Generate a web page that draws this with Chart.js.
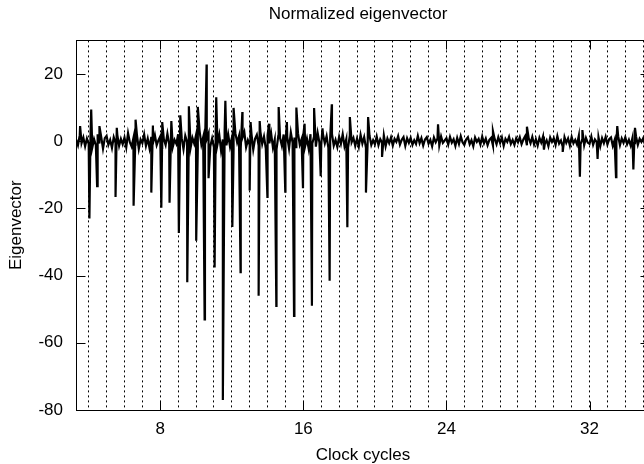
<!DOCTYPE html>
<html><head><meta charset="utf-8">
<script src="https://cdn.jsdelivr.net/npm/chart.js@4"></script>
<style>
html,body{margin:0;padding:0;overflow:hidden;background:#fff;width:644px;height:464px}
#wrap{position:absolute;left:0;top:0;width:716px;height:464px}
</style></head>
<body><div id="wrap"><canvas id="c" width="716" height="464"></canvas></div>
<script>
const baseStart = 3.3;
const baseStep = 0.1;
const baseline = [
 0.5,-1.2,1.8,-0.6,1.1,-1.5,0.8,
 -0.8,1.5,-1.9,0.6,-1.2,2.1,-0.7,1.3,-2.2,0.9,
 1.6,-1.1,0.4,-2.0,1.2,-0.5,1.9,-1.4,0.7,-0.9,
 1.1,-1.8,2.4,-0.3,-1.6,0.9,-1.0,1.7,-2.3,0.5,
 -0.6,2.0,-1.4,0.8,-2.1,1.3,-0.4,1.8,-1.2,0.3,
 1.4,-2.0,0.6,-1.1,2.2,-0.9,1.5,-1.7,0.4,-0.8,
 2.1,-1.3,0.9,-2.4,1.6,-0.2,2.5,-1.9,1.0,-0.7,
 1.8,-2.2,3.0,-1.0,1.2,-2.6,0.7,2.3,-1.5,0.8,
 -1.8,2.6,-0.9,1.9,-2.8,0.5,3.1,-1.2,2.0,-1.6,
 0.9,-2.3,2.4,-0.4,1.5,-2.0,1.1,2.7,-1.8,0.3,
 -1.1,2.2,-2.5,0.7,1.9,-1.3,2.8,-0.8,1.4,-2.1,
 1.7,-0.6,2.3,-1.9,0.5,-2.4,1.6,0.9,-1.4,2.0,
 -0.9,1.3,-2.2,2.6,-0.5,1.1,-1.8,2.4,-1.0,0.6,
 1.9,-1.5,0.8,-2.3,2.1,-0.7,1.4,-1.6,2.5,-0.4,
 -1.2,2.0,-0.6,1.5,-2.0,0.9,2.2,-1.3,0.4,-1.7,
 1.3,-0.8,2.1,-1.5,0.6,-1.9,1.7,-0.3,1.0,-1.4,
 0.8,-1.6,1.9,-0.7,1.2,-2.0,0.5,1.6,-1.1,0.3,
 -0.9,1.4,-1.2,0.6,-0.4,1.7,-1.5,0.8,-0.6,1.1,
 -1.3,0.7,-0.2,1.5,-1.0,0.4,1.2,-1.4,0.9,-0.5,
 1.0,-1.1,0.3,-0.8,1.6,-0.6,0.9,-1.3,0.5,1.2,
 -0.7,0.4,-1.5,1.1,-0.3,0.8,-1.2,1.4,-0.5,0.2,
 0.9,-1.0,1.3,-0.4,0.6,-1.4,1.0,-0.8,1.5,-0.3,
 -1.1,0.5,1.2,-0.9,0.3,-1.5,1.1,-0.2,0.7,-1.0,
 1.4,-0.6,0.8,-1.2,0.4,1.0,-1.3,0.6,-0.9,1.2,
 -0.5,1.1,-1.4,0.7,-0.2,1.3,-0.8,0.4,-1.1,0.9,
 -0.3,1.2,-0.9,0.5,1.5,-1.2,0.8,-0.6,1.3,-1.0,
 0.6,-1.3,1.0,-0.4,1.4,-0.8,0.3,-1.5,1.1,-0.2,
 0.9,-1.1,1.5,-0.7,0.2,-1.6,1.2,-0.5,0.8,-1.3,
 1.3,-0.6,0.4,-1.0,1.6,-0.9,0.7,-1.2,1.0,-0.4,
 -0.8,1.4,-1.1,0.5,-0.3,1.2,-1.5,0.9,-0.6,1.3,
 -1.0,0.6,1.1,-1.4,0.3,-0.7,1.5,-1.2,0.8,-0.5,
 1.2,-0.9,0.4,-1.3,1.0,-0.6,1.4,-1.1,0.7,-0.2,
 0.9,-1.0,0.5,-0.7,1.1
];
// Spikes (clock cycle, eigenvector value)
const spikeX = [
 3.52,4.04,4.14,4.47,4.60,5.50,5.57,6.51,6.62,7.50,7.59,8.06,8.11,8.52,8.62,
 9.04,9.12,9.51,9.60,10.01,10.10,10.48,10.59,10.70,11.04,11.13,11.50,11.64,
 12.03,12.10,12.49,12.59,13.00,13.05,13.50,13.56,13.99,14.08,14.49,14.62,
 14.99,15.08,15.48,15.61,15.98,16.07,16.48,16.60,16.97,17.07,17.47,17.59,
 18.46,18.60,19.50,19.62,20.40,23.53,26.60,28.50,29.45,30.50,31.46,31.60,
 32.45,33.48,33.55,34.45,34.54
];
const spikeY = [
 4.5,-23,9.4,-13.4,4.5,-16.6,4.0,-19.2,6.4,-15.3,4.7,-19.8,5.7,-18.3,6.0,
 -27.3,7.7,-42,10.4,-29.6,10.2,-53,22.8,-11,-37.6,13.1,-77,12.0,
 -25.5,9.9,-39,8.7,-14.7,5.7,-46,6.0,-16.6,5.2,-49,10.2,
 -15,5.7,-52,10.0,-14,5.2,-49,9.9,-10.4,3.8,-41.5,11.0,
 -25.6,7.2,-15.3,7.2,-4.7,5.0,3.0,4.3,-2.5,-3.2,-10.6,3.3,
 -5.3,-10.7,4.5,-8.4,4.0
];
const xLabels = [8, 16, 24, 32];
const yLabels = [-80, -60, -40, -20, 0, 20];

const points = baseline.map((v, i) => ({x: Math.round((baseStart + i * baseStep) * 100) / 100, y: v}))
  .concat(spikeX.map((x, i) => ({x: x, y: spikeY[i]})))
  .sort((a, b) => a.x - b.x);

const F = "'Liberation Sans', Arial, Helvetica, sans-serif";
const font = {family: F, size: 17, weight: 'normal'};

const framePlugin = {
  id: 'frame',
  afterDraw(chart) {
    const {ctx, chartArea: a, scales} = chart;
    ctx.save();
    ctx.setLineDash([]);
    ctx.strokeStyle = '#000';
    ctx.lineWidth = 1;
    const L = Math.round(a.left) + 0.5, R = Math.round(a.right) - 0.5;
    const T = Math.round(a.top) + 0.5, B = Math.round(a.bottom) + 0.5;
    ctx.strokeRect(L, T, R - L, B - T);
    const len = 9;
    ctx.beginPath();
    xLabels.forEach(v => {
      const px = Math.round(scales.x.getPixelForValue(v)) + 0.5;
      ctx.moveTo(px, B); ctx.lineTo(px, B - len);
      ctx.moveTo(px, T); ctx.lineTo(px, T + len);
    });
    yLabels.forEach(v => {
      const py = Math.round(scales.y.getPixelForValue(v)) + 0.5;
      ctx.moveTo(L, py); ctx.lineTo(L + len, py);
      ctx.moveTo(R, py); ctx.lineTo(R - len, py);
    });
    ctx.stroke();
    ctx.restore();
  }
};

new Chart(document.getElementById('c'), {
  type: 'line',
  data: {
    datasets: [{
      data: points,
      borderColor: '#000',
      borderWidth: 2.2,
      pointRadius: 0,
      tension: 0,
      fill: false
    }]
  },
  options: {
    responsive: false,
    animation: false,
    devicePixelRatio: 1,
    layout: {padding: 0},
    plugins: {
      legend: {display: false},
      tooltip: {enabled: false},
      title: {
        display: true, text: 'Normalized eigenvector', color: '#000',
        font: font, padding: {top: 4, bottom: 16}
      }
    },
    scales: {
      x: {
        type: 'linear', min: 3.29, max: 35.38,
        afterFit(s) { s.height = 54; },
        ticks: {
          stepSize: 1, autoSkip: false, includeBounds: false, maxRotation: 0,
          padding: 9, color: '#000', font: font,
          callback: v => xLabels.includes(v) ? String(v) : ''
        },
        grid: {display: true, color: '#000', lineWidth: 1, drawTicks: false},
        border: {display: false, dash: [2, 3]},
        title: {display: true, text: 'Clock cycles', color: '#000',
          font: {family: F, size: 17, weight: 'normal', lineHeight: 1}, padding: {top: 0, bottom: 0}}
      },
      y: {
        type: 'linear', min: -80, max: 30,
        afterFit(s) { s.width = 76; },
        ticks: {
          stepSize: 20, includeBounds: false, padding: 13, color: '#000', font: font,
          callback: v => yLabels.includes(v) ? String(v) : ''
        },
        grid: {display: false, drawTicks: false},
        border: {display: false},
        title: {display: true, text: 'Eigenvector', color: '#000', font: font, padding: {top: 6, bottom: 0}}
      },
      y2: {
        type: 'linear', position: 'right', display: true,
        afterFit(s) { s.width = 66; },
        ticks: {display: false},
        grid: {display: false, drawTicks: false},
        border: {display: false}
      }
    }
  },
  plugins: [framePlugin]
});
</script>
</body></html>
